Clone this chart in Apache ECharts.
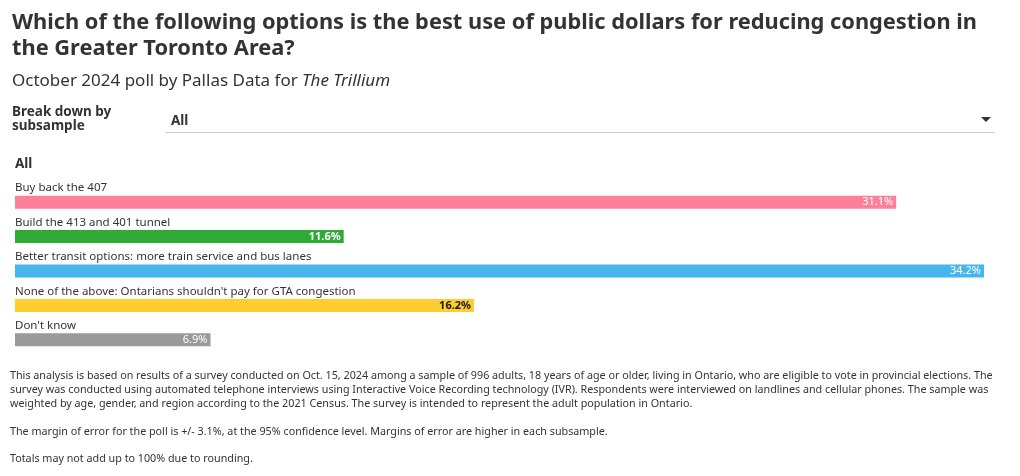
<!DOCTYPE html>
<html><head><meta charset="utf-8">
<script src="https://cdn.jsdelivr.net/npm/echarts@6/dist/echarts.min.js"></script>
<style>html,body{margin:0;padding:0;background:#fff}#c{width:1020px;height:476px}</style>
</head><body><div id="c"></div>
<script>
const categories = [
  "Buy back the 407",
  "Build the 413 and 401 tunnel",
  "Better transit options: more train service and bus lanes",
  "None of the above: Ontarians shouldn't pay for GTA congestion",
  "Don't know"
];
const values = [31.1, 11.6, 34.2, 16.2, 6.9];
const colors = ["#fd809b", "#2eaa35", "#47b6ee", "#fecd2f", "#9a9a9a"];
const labelColors = ["#ffffff", "#ffffff", "#ffffff", "#1a1a1a", "#ffffff"];
const labelBold = [false, true, false, true, false];

const titleText = "Which of the following options is the best use of public dollars for reducing congestion in\nthe Greater Toronto Area?";
const notes = [
  "This analysis is based on results of a survey conducted on Oct. 15, 2024 among a sample of 996 adults, 18 years of age or older, living in Ontario, who are eligible to vote in provincial elections. The",
  "survey was conducted using automated telephone interviews using Interactive Voice Recording technology (IVR). Respondents were interviewed on landlines and cellular phones. The sample was",
  "weighted by age, gender, and region according to the 2021 Census. The survey is intended to represent the adult population in Ontario.",
  "",
  "The margin of error for the poll is +/- 3.1%, at the 95% confidence level. Margins of error are higher in each subsample.",
  "",
  "Totals may not add up to 100% due to rounding."
];

const FONT = "Noto Sans";
const chart = echarts.init(document.getElementById('c'), null, {renderer: 'canvas'});
chart.setOption({
  animation: false,
  textStyle: {fontFamily: FONT},
  title: [
    {text: titleText, left: 12, top: 10, padding: 0, textStyle: {fontFamily: FONT, fontSize: 21.8, fontWeight: 'bold', color: '#333333', lineHeight: 26}},
    {text: "{n|October 2024 poll by Pallas Data for }{i|The Trillium}", left: 12, top: 73, padding: 0,
      textStyle: {fontWeight: 'normal', rich: {n: {fontFamily: FONT, fontSize: 17, fontWeight: 'normal', color: '#333333'}, i: {fontFamily: FONT, fontSize: 17, fontWeight: 'normal', fontStyle: 'italic', color: '#333333'}}}},
    {text: "Break down by\nsubsample", left: 12, top: 105, padding: 0, textStyle: {fontFamily: FONT, fontSize: 13.5, fontWeight: 'bold', color: '#333333', lineHeight: 14}},
    {text: "All", left: 171, top: 114, padding: 0, textStyle: {fontFamily: FONT, fontSize: 13.5, fontWeight: 'bold', color: '#333333'}},
    {text: "All", left: 15, top: 157, padding: 0, textStyle: {fontFamily: FONT, fontSize: 13.5, fontWeight: 'bold', color: '#333333'}},
    {text: notes.join("\n"), left: 10, top: 369, padding: 0, textStyle: {fontFamily: FONT, fontSize: 10.75, fontWeight: 'normal', color: '#333333', lineHeight: 13.9}}
  ],
  graphic: [
    {type: 'line', shape: {x1: 166, y1: 132.5, x2: 995, y2: 132.5}, style: {stroke: '#c8c8c8', lineWidth: 1}},
    {type: 'polygon', shape: {points: [[981, 117], [991, 117], [986, 122]]}, style: {fill: '#333333'}}
  ],
  grid: {left: 15, right: 36, top: 185, bottom: 476 - 357, containLabel: false},
  xAxis: {type: 'value', min: 0, max: 'dataMax', show: false},
  yAxis: {
    type: 'category', data: categories, inverse: true,
    axisLine: {show: false}, axisTick: {show: false}, splitLine: {show: false},
    axisLabel: {inside: true, margin: 0, align: 'left', verticalAlign: 'bottom', padding: [0, 0, 8, 0],
      fontFamily: FONT, fontSize: 11.5, color: '#333333'}
  },
  series: [{
    type: 'bar', barWidth: 13,
    data: values.map((v, i) => ({
      value: v,
      itemStyle: {color: colors[i]},
      label: {color: labelColors[i], fontWeight: labelBold[i] ? 'bold' : 'normal'}
    })),
    label: {show: true, position: 'insideRight', distance: 3, fontFamily: FONT, fontSize: 11,
      formatter: p => p.value.toFixed(1) + '%'}
  }]
});
</script></body></html>
